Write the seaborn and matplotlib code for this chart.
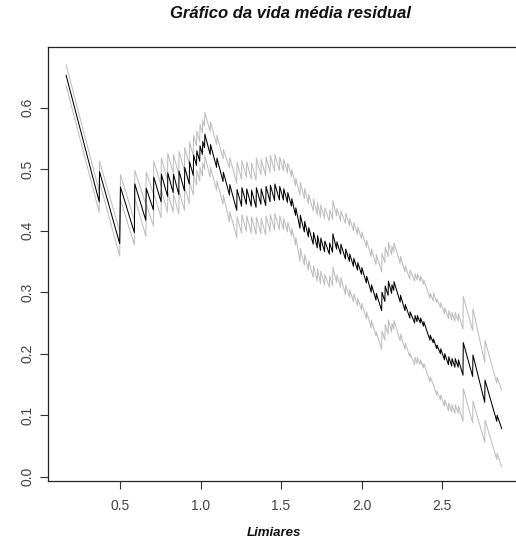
import matplotlib
matplotlib.use("Agg")
import matplotlib.pyplot as plt
import seaborn as sns
import pandas as pd

# Thresholds (limiares) at the polyline vertices
limiares = [0.165, 0.371, 0.373, 0.498, 0.503, 0.589, 0.592, 0.660, 0.663, 0.707,
            0.710, 0.755, 0.757, 0.795, 0.797, 0.830, 0.832, 0.865, 0.867, 0.900,
            0.902, 0.930, 0.932, 0.955, 0.957, 0.975, 0.977, 0.995, 0.997, 1.012,
            1.014, 1.025, 1.027, 1.060, 1.062, 1.100, 1.102, 1.140, 1.142, 1.180,
            1.182, 1.225, 1.227, 1.255, 1.257, 1.285, 1.287, 1.315, 1.317, 1.345,
            1.347, 1.375, 1.377, 1.405, 1.407, 1.432, 1.434, 1.460, 1.462, 1.490,
            1.492, 1.515, 1.517, 1.540, 1.542, 1.565, 1.567, 1.590, 1.592, 1.618,
            1.620, 1.645, 1.647, 1.670, 1.672, 1.700, 1.702, 1.725, 1.727, 1.745,
            1.747, 1.770, 1.772, 1.800, 1.802, 1.820, 1.822, 1.845, 1.847, 1.870,
            1.872, 1.900, 1.902, 1.925, 1.927, 1.950, 1.952, 1.975, 1.977, 2.000,
            2.002, 2.030, 2.032, 2.060, 2.062, 2.090, 2.092, 2.125, 2.127, 2.145,
            2.147, 2.165, 2.167, 2.187, 2.189, 2.200, 2.202, 2.240, 2.242, 2.270,
            2.272, 2.300, 2.302, 2.330, 2.332, 2.345, 2.347, 2.365, 2.367, 2.385,
            2.387, 2.425, 2.427, 2.445, 2.447, 2.467, 2.469, 2.490, 2.492, 2.515,
            2.517, 2.540, 2.542, 2.560, 2.562, 2.580, 2.582, 2.600, 2.602, 2.630,
            2.632, 2.690, 2.692, 2.765, 2.767, 2.840, 2.842, 2.871]

# Mean residual life (centre line)
vida_media = [0.653, 0.447, 0.496, 0.379, 0.471, 0.397, 0.476, 0.417, 0.469, 0.434,
              0.487, 0.447, 0.492, 0.456, 0.494, 0.462, 0.492, 0.459, 0.497, 0.465,
              0.503, 0.476, 0.512, 0.490, 0.523, 0.506, 0.530, 0.513, 0.538, 0.524,
              0.545, 0.535, 0.557, 0.524, 0.540, 0.503, 0.518, 0.480, 0.495, 0.458,
              0.475, 0.433, 0.467, 0.440, 0.470, 0.443, 0.468, 0.440, 0.466, 0.438,
              0.470, 0.443, 0.468, 0.441, 0.472, 0.447, 0.474, 0.449, 0.476, 0.450,
              0.472, 0.450, 0.468, 0.446, 0.462, 0.440, 0.452, 0.425, 0.437, 0.404,
              0.425, 0.398, 0.415, 0.390, 0.405, 0.378, 0.397, 0.372, 0.392, 0.368,
              0.388, 0.366, 0.383, 0.362, 0.380, 0.365, 0.395, 0.370, 0.382, 0.362,
              0.378, 0.354, 0.370, 0.350, 0.362, 0.342, 0.355, 0.336, 0.348, 0.329,
              0.340, 0.315, 0.326, 0.300, 0.312, 0.287, 0.298, 0.270, 0.300, 0.285,
              0.310, 0.295, 0.318, 0.298, 0.312, 0.303, 0.317, 0.284, 0.295, 0.270,
              0.280, 0.258, 0.268, 0.250, 0.262, 0.252, 0.262, 0.250, 0.258, 0.245,
              0.252, 0.222, 0.230, 0.218, 0.224, 0.208, 0.214, 0.200, 0.208, 0.190,
              0.200, 0.182, 0.195, 0.180, 0.192, 0.178, 0.192, 0.178, 0.190, 0.165,
              0.218, 0.163, 0.198, 0.121, 0.157, 0.090, 0.100, 0.078]

# Upper confidence limit
superior = [0.670, 0.464, 0.513, 0.399, 0.491, 0.417, 0.498, 0.443, 0.495, 0.460,
            0.513, 0.473, 0.518, 0.482, 0.526, 0.494, 0.524, 0.491, 0.529, 0.497,
            0.535, 0.508, 0.544, 0.522, 0.555, 0.538, 0.562, 0.545, 0.573, 0.559,
            0.580, 0.570, 0.592, 0.561, 0.577, 0.540, 0.555, 0.517, 0.532, 0.502,
            0.519, 0.477, 0.511, 0.484, 0.514, 0.487, 0.512, 0.484, 0.510, 0.482,
            0.518, 0.491, 0.516, 0.489, 0.520, 0.495, 0.522, 0.497, 0.524, 0.498,
            0.520, 0.498, 0.516, 0.494, 0.510, 0.488, 0.500, 0.473, 0.485, 0.458,
            0.479, 0.452, 0.469, 0.444, 0.459, 0.432, 0.451, 0.426, 0.446, 0.422,
            0.442, 0.420, 0.437, 0.416, 0.434, 0.419, 0.449, 0.424, 0.436, 0.416,
            0.432, 0.412, 0.428, 0.408, 0.420, 0.400, 0.413, 0.394, 0.406, 0.387,
            0.398, 0.373, 0.384, 0.358, 0.370, 0.345, 0.361, 0.333, 0.363, 0.348,
            0.373, 0.358, 0.381, 0.361, 0.375, 0.366, 0.380, 0.347, 0.358, 0.333,
            0.343, 0.321, 0.336, 0.318, 0.330, 0.320, 0.330, 0.318, 0.326, 0.313,
            0.320, 0.290, 0.298, 0.286, 0.299, 0.283, 0.289, 0.275, 0.283, 0.265,
            0.275, 0.257, 0.270, 0.255, 0.267, 0.253, 0.267, 0.253, 0.265, 0.240,
            0.293, 0.238, 0.273, 0.186, 0.222, 0.152, 0.162, 0.140]

# Lower confidence limit
inferior = [0.636, 0.430, 0.479, 0.359, 0.451, 0.377, 0.454, 0.391, 0.443, 0.408,
            0.461, 0.421, 0.466, 0.430, 0.462, 0.430, 0.460, 0.427, 0.465, 0.433,
            0.471, 0.444, 0.480, 0.458, 0.491, 0.474, 0.498, 0.481, 0.503, 0.489,
            0.510, 0.500, 0.522, 0.487, 0.503, 0.466, 0.481, 0.443, 0.458, 0.414,
            0.431, 0.389, 0.423, 0.396, 0.426, 0.399, 0.424, 0.396, 0.422, 0.394,
            0.422, 0.395, 0.420, 0.393, 0.424, 0.399, 0.426, 0.401, 0.428, 0.402,
            0.424, 0.402, 0.420, 0.398, 0.414, 0.392, 0.404, 0.377, 0.389, 0.350,
            0.371, 0.344, 0.361, 0.336, 0.351, 0.324, 0.343, 0.318, 0.338, 0.314,
            0.334, 0.312, 0.329, 0.308, 0.326, 0.311, 0.341, 0.316, 0.328, 0.308,
            0.324, 0.296, 0.312, 0.292, 0.304, 0.284, 0.297, 0.278, 0.290, 0.271,
            0.282, 0.257, 0.268, 0.242, 0.254, 0.229, 0.235, 0.207, 0.237, 0.222,
            0.247, 0.232, 0.255, 0.235, 0.249, 0.240, 0.254, 0.221, 0.232, 0.207,
            0.217, 0.195, 0.200, 0.182, 0.194, 0.184, 0.194, 0.182, 0.190, 0.177,
            0.184, 0.154, 0.162, 0.150, 0.149, 0.133, 0.139, 0.125, 0.133, 0.115,
            0.125, 0.107, 0.120, 0.105, 0.117, 0.103, 0.117, 0.103, 0.115, 0.090,
            0.143, 0.088, 0.123, 0.056, 0.092, 0.028, 0.038, 0.016]

x_ticks = [0.5, 1.0, 1.5, 2.0, 2.5]
x_tick_labels = ["0.5", "1.0", "1.5", "2.0", "2.5"]
y_ticks = [0.0, 0.1, 0.2, 0.3, 0.4, 0.5, 0.6]
y_tick_labels = ["0.0", "0.1", "0.2", "0.3", "0.4", "0.5", "0.6"]

df = pd.DataFrame({"u": limiares, "mrl": vida_media,
                   "sup": superior, "inf": inferior})

sns.set_theme(style="white")
plt.rcParams["font.family"] = ["Liberation Sans", "DejaVu Sans"]

fig = plt.figure(figsize=(5.16, 5.44), dpi=100)
ax = fig.add_axes([48.3 / 516, (544 - 480.5) / 544, (519 - 48.3) / 516, (480.5 - 47) / 544])

grey = "#bebebe"
sns.lineplot(data=df, x="u", y="sup", ax=ax, color=grey, lw=0.75,
             estimator=None, sort=False)
sns.lineplot(data=df, x="u", y="inf", ax=ax, color=grey, lw=0.75,
             estimator=None, sort=False)
sns.lineplot(data=df, x="u", y="mrl", ax=ax, color="black", lw=0.75,
             estimator=None, sort=False)

ax.set_xlim(0.0547, 2.978)
ax.set_ylim(-0.0062, 0.6987)

ax.set_xticks(x_ticks)
ax.set_xticklabels(x_tick_labels)
ax.set_yticks(y_ticks)
ax.set_yticklabels(y_tick_labels, rotation=90, va="center")

ax.tick_params(axis="x", direction="out", length=6, width=0.8,
               color="#333333", labelsize=10, labelcolor="#444444", pad=7,
               bottom=True)
ax.tick_params(axis="y", direction="out", length=6, width=0.8,
               color="#333333", labelsize=10, labelcolor="#444444", pad=4,
               left=True)
for s in ax.spines.values():
    s.set_color("#222222")
    s.set_linewidth(0.9)

ax.set_xlabel("")
ax.set_ylabel("")
fig.text(274 / 516, 1 - 533 / 544, "Limiares", ha="center", va="center",
         fontsize=9.5, fontweight="bold", fontstyle="italic", color="#111111")
fig.text(291 / 516, 1 - 14 / 544, "Gráfico da vida média residual",
         ha="center", va="center", fontsize=12, fontweight="bold",
         fontstyle="italic", color="#111111")

fig.savefig("out.png", dpi=100)
